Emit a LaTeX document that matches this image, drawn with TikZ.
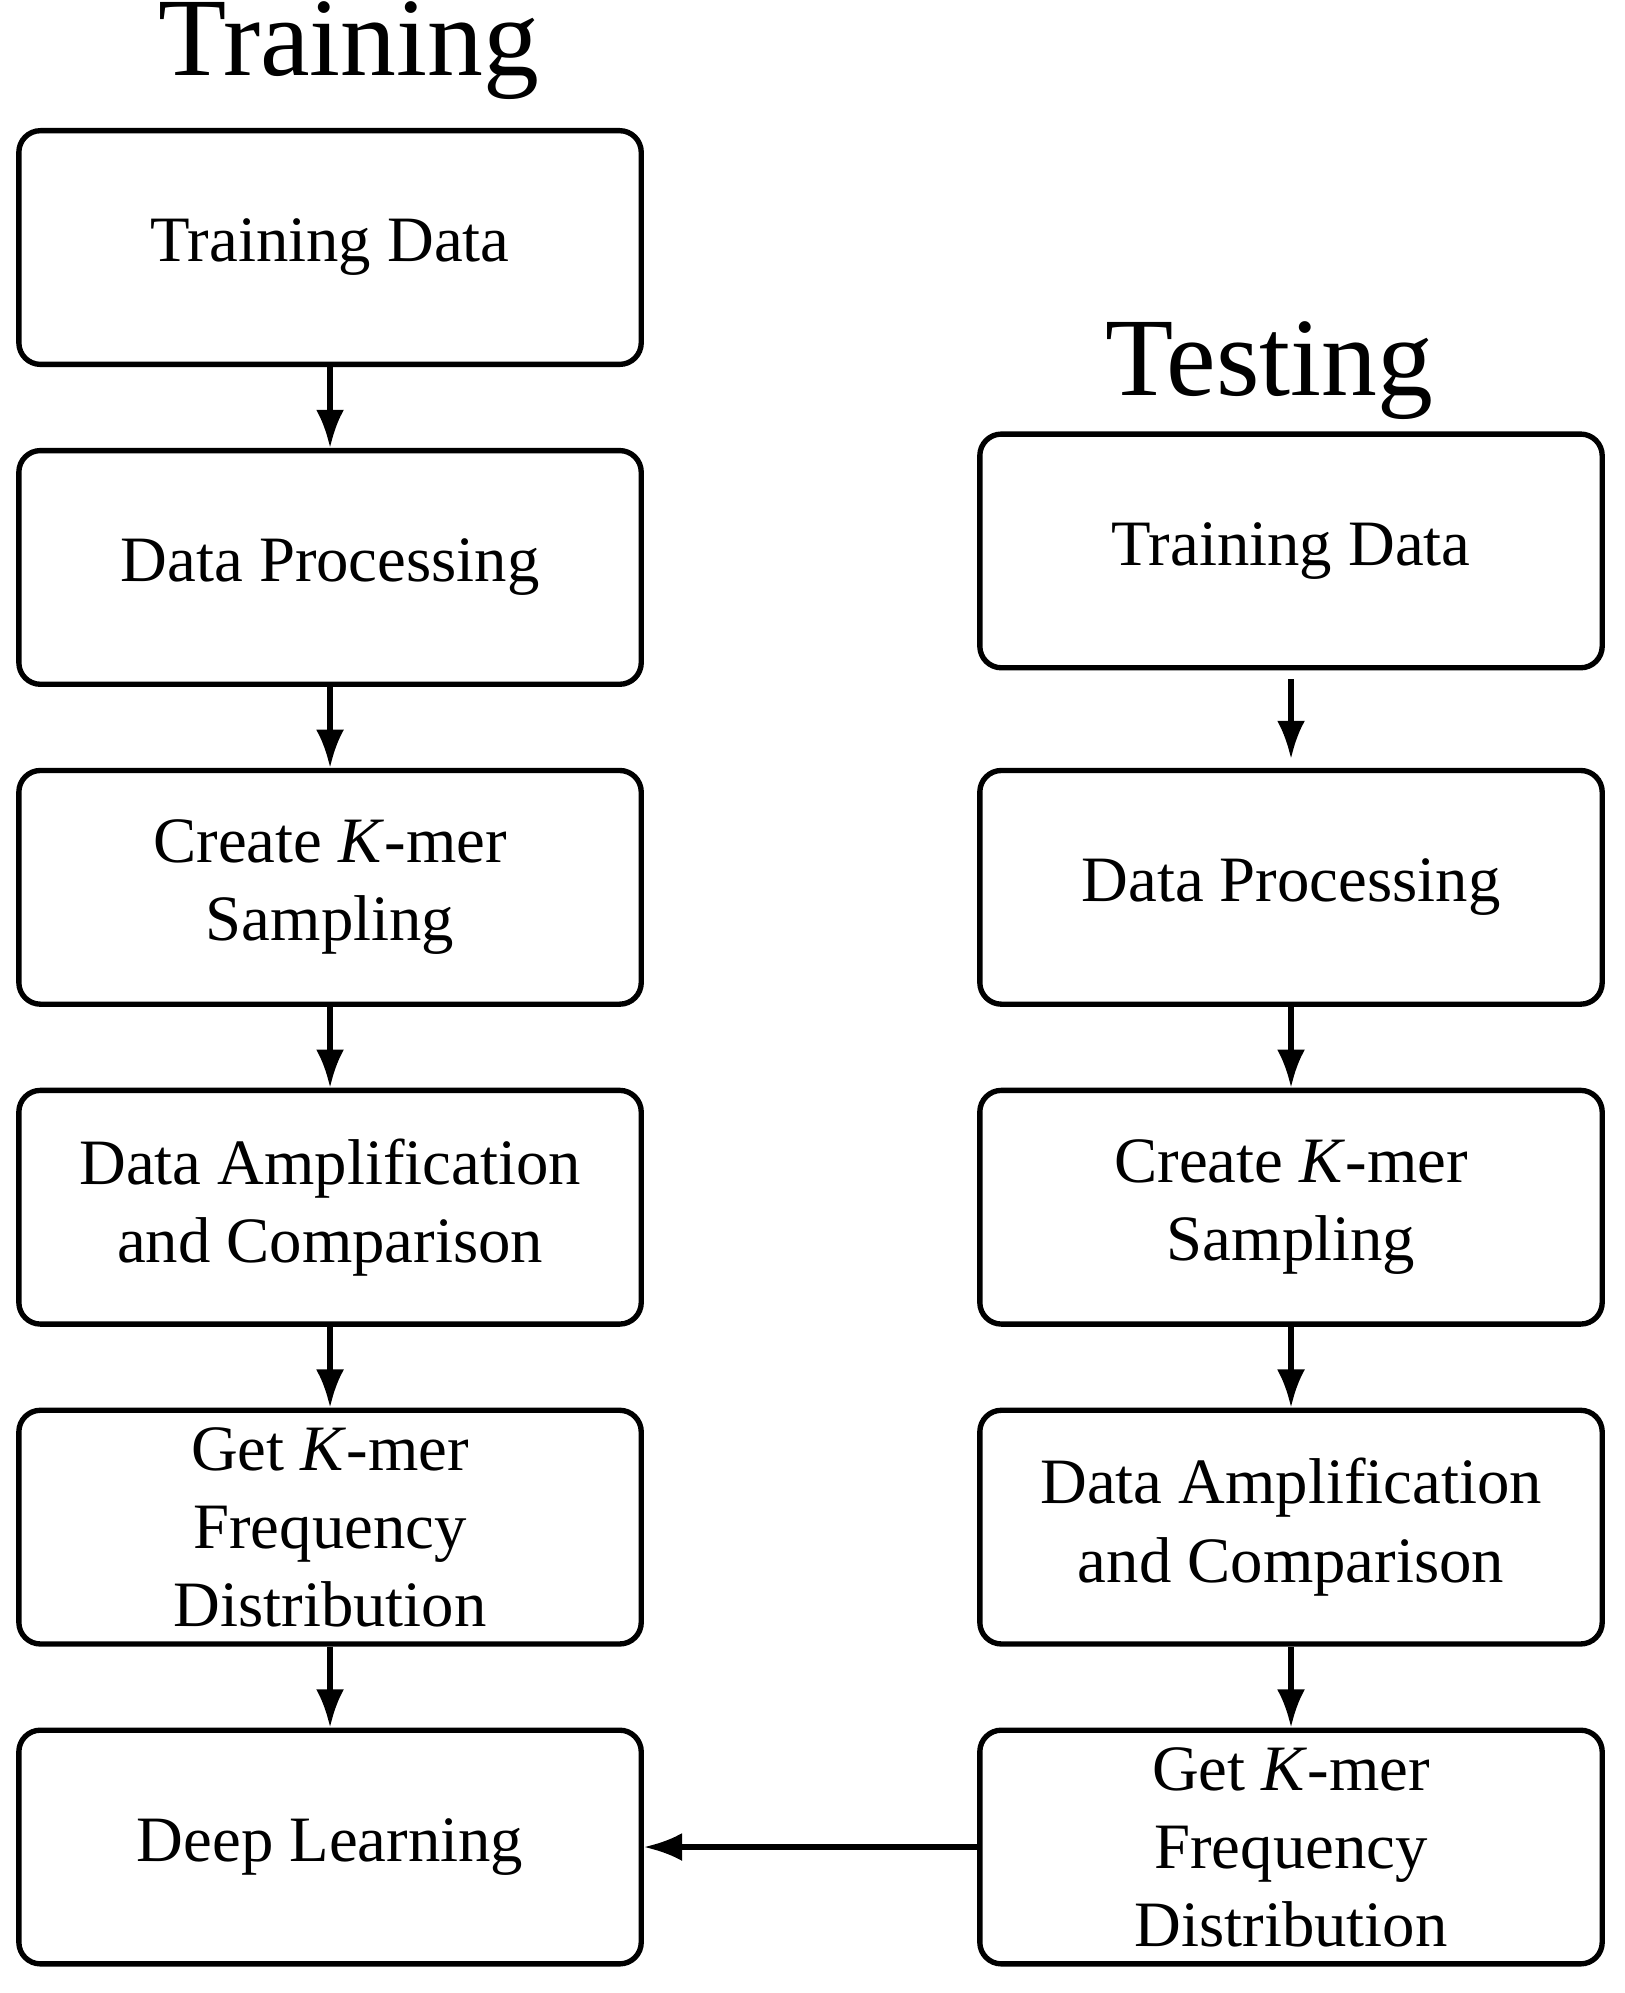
\documentclass[tikz,border=0pt]{standalone}
\usepackage{fontspec}
\setmainfont{Liberation Serif}
\usetikzlibrary{arrows.meta}
\tikzset{
    stage/.style = {rectangle, rounded corners=0.17cm, draw=black, line width=1.2pt, text=black,
                   minimum width=4.9cm, minimum height=1.84cm, align=center,
                   font=\fontsize{14.5}{17.5}\selectfont},
    title/.style = {font=\fontsize{25}{28}\selectfont},
    flow/.style = {-{Latex[length=0.3cm,width=0.22cm]}, line width=1.2pt}
}
\begin{document}
\begin{tikzpicture}[x=0.01cm,y=-0.01cm]
    \useasboundingbox (0,0) rectangle (1280,1570);

    %% Training
    \node[title] (ttrain) at (275,40) {Training};
    \node[stage] (l1) at (260,195)  {Training Data};
    \node[stage] (l2) at (260,447)  {Data Processing};
    \node[stage] (l3) at (260,699)  {Create \textit{K}-mer\\Sampling};
    \node[stage] (l4) at (260,951)  {Data Amplification\\and Comparison};
    \node[stage] (l5) at (260,1203) {Get \textit{K}-mer\\Frequency\\Distribution};
    \node[stage] (l6) at (260,1455) {Deep Learning};

    %% Testing
    \node[title] (ttest) at (1000,292) {Testing};
    \node[stage] (r1) at (1017,434)  {Training Data};
    \node[stage] (r2) at (1017,699)  {Data Processing};
    \node[stage] (r3) at (1017,951)  {Create \textit{K}-mer\\Sampling};
    \node[stage] (r4) at (1017,1203) {Data Amplification\\and Comparison};
    \node[stage] (r5) at (1017,1455) {Get \textit{K}-mer\\Frequency\\Distribution};

    \foreach \a/\b in {l1/l2,l2/l3,l3/l4,l4/l5,l5/l6,r2/r3,r3/r4,r4/r5}
        \draw[flow] (\a) -- (\b);
    \draw[flow] ([yshift=-0.07cm]r1.south) -- ([yshift=0.07cm]r2.north);
    \draw[flow] (r5) -- (l6);
\end{tikzpicture}
\end{document}
